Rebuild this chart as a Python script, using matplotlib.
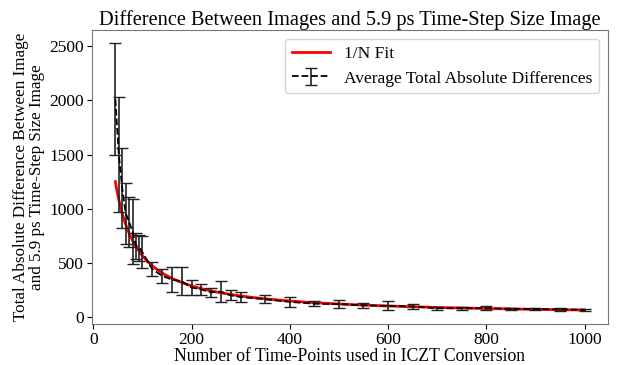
import numpy as np
import matplotlib
matplotlib.use('Agg')
import matplotlib.pyplot as plt

plt.rcParams['font.family'] = ['Liberation Serif', 'DejaVu Serif']

# number of time points
n_points = [45, 52, 59, 66, 73, 80, 87, 94, 100,
            120, 140, 160, 180, 200, 220, 240, 260, 280, 300,
            350, 400, 450, 500, 550, 600, 650, 700, 750, 800, 850, 900, 950, 1000]
# average total absolute difference
avg_diff = [2010, 1500, 1190, 960, 880, 790, 660, 640, 600,
            443, 383, 347, 332, 274, 256, 230, 236, 202, 187,
            166, 142, 125, 122, 110, 105, 100, 83, 83, 84, 78, 76, 72, 70]
# standard deviation
std_diff = [517, 530, 370, 280, 230, 300, 120, 120, 145,
            65, 64, 115, 130, 66, 54, 43, 95, 46, 46,
            35, 47, 25, 33, 25, 41, 20, 12, 12, 20, 10, 12, 10, 10]

n = np.array(n_points, dtype=float)
y = np.array(avg_diff, dtype=float)
sd = np.array(std_diff, dtype=float)

# weighted fit y = a/N + b
a, b = np.polyfit(1.0 / n, y, 1, w=1.0 / sd)
nn = np.linspace(n.min(), n.max(), 400)
fit = a / nn + b

fig = plt.figure(figsize=(6.21, 3.65), dpi=100)
ax = fig.add_axes([0.148, 0.112, 0.831, 0.806])

ax.plot(nn, fit, color='red', lw=2, label='1/N Fit')
ax.errorbar(n, y, yerr=sd, color='k', ls='--', lw=1.3, capsize=4,
            elinewidth=1.2, ecolor='#222222',
            label='Average Total Absolute Differences')

ax.set_title('Difference Between Images and 5.9 ps Time-Step Size Image', fontsize=14.7, pad=3)
ax.set_xlabel('Number of Time-Points used in ICZT Conversion', fontsize=12.7, labelpad=0)
ax.set_ylabel('Total Absolute Difference Between Image\nand 5.9 ps Time-Step Size Image',
              fontsize=12.3, labelpad=3, linespacing=1.0)
ax.tick_params(labelsize=12.5, pad=2)
ax.set_xticks([0, 200, 400, 600, 800, 1000])
ax.set_yticks([0, 500, 1000, 1500, 2000, 2500])
for s in ax.spines.values():
    s.set_color('#777777')
leg = ax.legend(loc='upper right', fontsize=12.5, handlelength=2.2, borderaxespad=0.5)
leg.get_frame().set_edgecolor('#cccccc')

fig.savefig('out.png', dpi=100)
